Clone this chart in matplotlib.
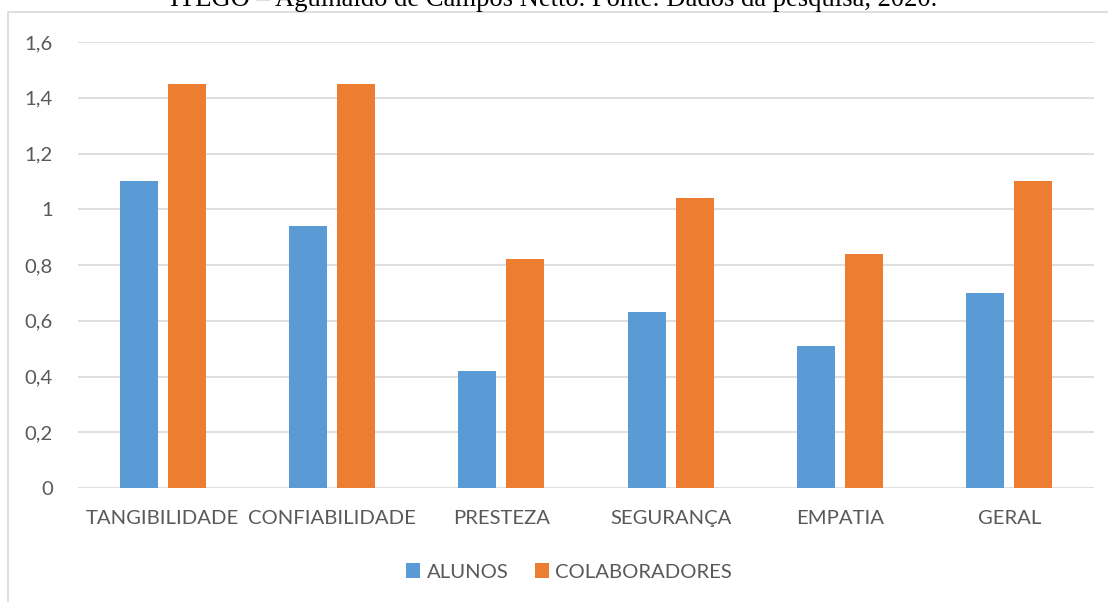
import matplotlib
matplotlib.use("Agg")
import matplotlib.pyplot as plt
import numpy as np
from matplotlib.patches import Rectangle

# Dados do gráfico
categorias = ["TANGIBILIDADE", "CONFIABILIDADE", "PRESTEZA", "SEGURANÇA", "EMPATIA", "GERAL"]
alunos = [1.10, 0.94, 0.42, 0.63, 0.51, 0.70]
colaboradores = [1.45, 1.45, 0.82, 1.04, 0.84, 1.10]
y_ticks = [0, 0.2, 0.4, 0.6, 0.8, 1.0, 1.2, 1.4, 1.6]
y_labels = ["0", "0,2", "0,4", "0,6", "0,8", "1", "1,2", "1,4", "1,6"]
titulo = "ITEGO – Aguinaldo de Campos Netto. Fonte: Dados da pesquisa, 2020."

AZUL = "#5B9BD5"
LARANJA = "#ED7D31"
CINZA_TXT = "#595959"
CINZA_GRADE = "#D9D9D9"

W, H = 1108, 602
fig = plt.figure(figsize=(W / 100, H / 100), dpi=100)

# borda da área do gráfico (cortada à direita e embaixo)
fig.patches.append(Rectangle((7.5 / W, -0.1), 1.2, (H - 12) / H + 0.1,
                             transform=fig.transFigure, fill=False,
                             edgecolor=CINZA_GRADE, linewidth=1.2))

# legenda do documento, cortada no topo
fig.text(0.5, (H - 6) / H, titulo, ha="center", va="baseline",
         family="Liberation Serif", fontsize=19.2, color="black")

ax = fig.add_axes([78 / W, (H - 488) / H, (1094 - 78) / W, (488 - 42) / H])

x = np.arange(len(categorias))
largura = 0.224
desloc = 0.1415
ax.bar(x - desloc, alunos, largura, color=AZUL, label="ALUNOS", zorder=3)
ax.bar(x + desloc, colaboradores, largura, color=LARANJA, label="COLABORADORES", zorder=3)

ax.set_xlim(-0.5, len(categorias) - 0.5)
ax.set_ylim(0, 1.6)
ax.set_yticks(y_ticks)
ax.set_yticklabels(y_labels)
ax.set_xticks(x)
ax.set_xticklabels(categorias)
for s in ax.spines.values():
    s.set_visible(False)
ax.grid(axis="y", color=CINZA_GRADE, linewidth=1.2, zorder=0)
ax.tick_params(length=0, labelcolor=CINZA_TXT, labelsize=14.6)
ax.tick_params(axis="y", pad=18)
ax.tick_params(axis="x", pad=16)
for t in ax.get_xticklabels() + ax.get_yticklabels():
    t.set_family("Lato")

leg = fig.legend(loc="center", bbox_to_anchor=(569 / W, (H - 572) / H), ncol=2,
                 frameon=False, prop={"family": "Lato", "size": 14.6},
                 handlelength=0.7, handleheight=0.7, handletextpad=0.3,
                 columnspacing=1.3)
for t in leg.get_texts():
    t.set_color(CINZA_TXT)

fig.savefig("out.png", dpi=100)
